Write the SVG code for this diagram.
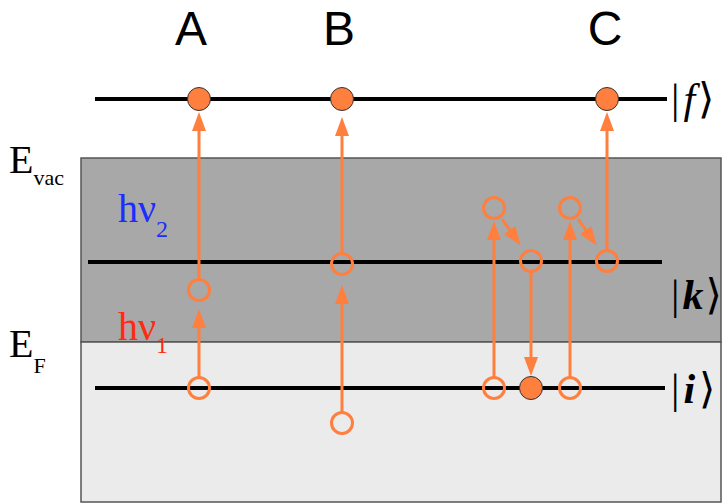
<svg xmlns="http://www.w3.org/2000/svg" width="724" height="504" viewBox="0 0 724 504">
<style>
.lvl{stroke:#000;stroke-width:4;fill:none}
.ar{stroke:#FF7F3F;stroke-width:3;fill:none;marker-end:url(#ah)}
.ho{fill:none;stroke:#FF7F3F;stroke-width:3}
.fi{fill:#FF7F3F;stroke:#333;stroke-width:1}
.big{font-family:"Liberation Sans",Arial,sans-serif;font-size:48px;fill:#000}
.ser{font-family:"Liberation Serif","Times New Roman",serif;fill:#000}
.ket{font-family:"Liberation Serif","DejaVu Serif",serif;font-size:42px;fill:#000}
</style>
<defs>
<marker id="ah" markerUnits="userSpaceOnUse" markerWidth="22" markerHeight="16" refX="11" refY="7" orient="auto">
<path d="M0,0 L19,7 L0,14 z" fill="#FF7F3F"/>
</marker>
</defs>
<g id="bands">
<rect x="81" y="158" width="640" height="184" fill="#A8A8A8" stroke="#555" stroke-width="1.5"/>
<rect x="81" y="342" width="640" height="160" fill="#EBEBEB" stroke="#555" stroke-width="1.5"/>
</g>
<g id="levels">
<line class="lvl" x1="95" y1="99" x2="667" y2="99"/>
<line class="lvl" x1="88" y1="262" x2="662" y2="262"/>
<line class="lvl" x1="95" y1="388" x2="665" y2="388"/>
</g>
<g id="labels">
<text class="big" x="191" y="45" text-anchor="middle">A</text>
<text class="big" x="339" y="45" text-anchor="middle">B</text>
<text class="big" x="605" y="45" text-anchor="middle">C</text>
<text class="ser" x="9" y="173" font-size="40">E<tspan font-size="22" dy="12">vac</tspan></text>
<text class="ser" x="9" y="357" font-size="40">E<tspan font-size="22" dy="16">F</tspan></text>
<text class="ser" x="118" y="222" font-size="40" style="fill:#1A2EFF">hν<tspan font-size="24" dy="15">2</tspan></text>
<text class="ser" x="118" y="340" font-size="40" style="fill:#FF2A10">hν<tspan font-size="24" dy="13">1</tspan></text>
<text class="ket" x="671" y="113">|<tspan font-style="italic" dx="4">f</tspan><tspan dx="3">⟩</tspan></text>
<text class="ket" x="671" y="309">|<tspan font-style="italic" dx="3" font-weight="bold">k</tspan><tspan dx="2">⟩</tspan></text>
<text class="ket" x="671" y="403">|<tspan font-style="italic" dx="4" font-weight="bold">i</tspan><tspan dx="4">⟩</tspan></text>
</g>
<g id="connectors">
<line class="ar" x1="199" y1="377" x2="199" y2="317"/>
<line class="ar" x1="199" y1="279" x2="199" y2="120"/>
<line class="ar" x1="342" y1="412" x2="342" y2="293"/>
<line class="ar" x1="342" y1="253" x2="342" y2="125"/>
<line class="ar" x1="494" y1="377" x2="494" y2="229"/>
<line class="ar" x1="502" y1="219" x2="516" y2="239"/>
<line class="ar" x1="531" y1="273" x2="531" y2="368"/>
<line class="ar" x1="570" y1="377" x2="570" y2="229"/>
<line class="ar" x1="578" y1="219" x2="592" y2="239"/>
<line class="ar" x1="607" y1="250" x2="607" y2="120"/>
</g>
<g id="nodeA">
<circle class="fi" cx="199" cy="99" r="11.5"/>
<circle class="ho" cx="199" cy="290" r="10.5"/>
<circle class="ho" cx="199" cy="388" r="10.5"/>
</g>
<g id="nodeB">
<circle class="fi" cx="342" cy="99" r="11.5"/>
<circle class="ho" cx="342" cy="264" r="10.5"/>
<circle class="ho" cx="342" cy="423" r="10.5"/>
</g>
<g id="nodeC">
<circle class="ho" cx="494" cy="208" r="10.5"/>
<circle class="ho" cx="531" cy="261" r="10.5"/>
<circle class="ho" cx="494" cy="388" r="10.5"/>
<circle class="fi" cx="531" cy="388" r="11.5"/>
<circle class="ho" cx="570" cy="388" r="10.5"/>
<circle class="ho" cx="570" cy="208" r="10.5"/>
<circle class="ho" cx="607" cy="261" r="10.5"/>
<circle class="fi" cx="607" cy="99" r="11.5"/>
</g>
</svg>
